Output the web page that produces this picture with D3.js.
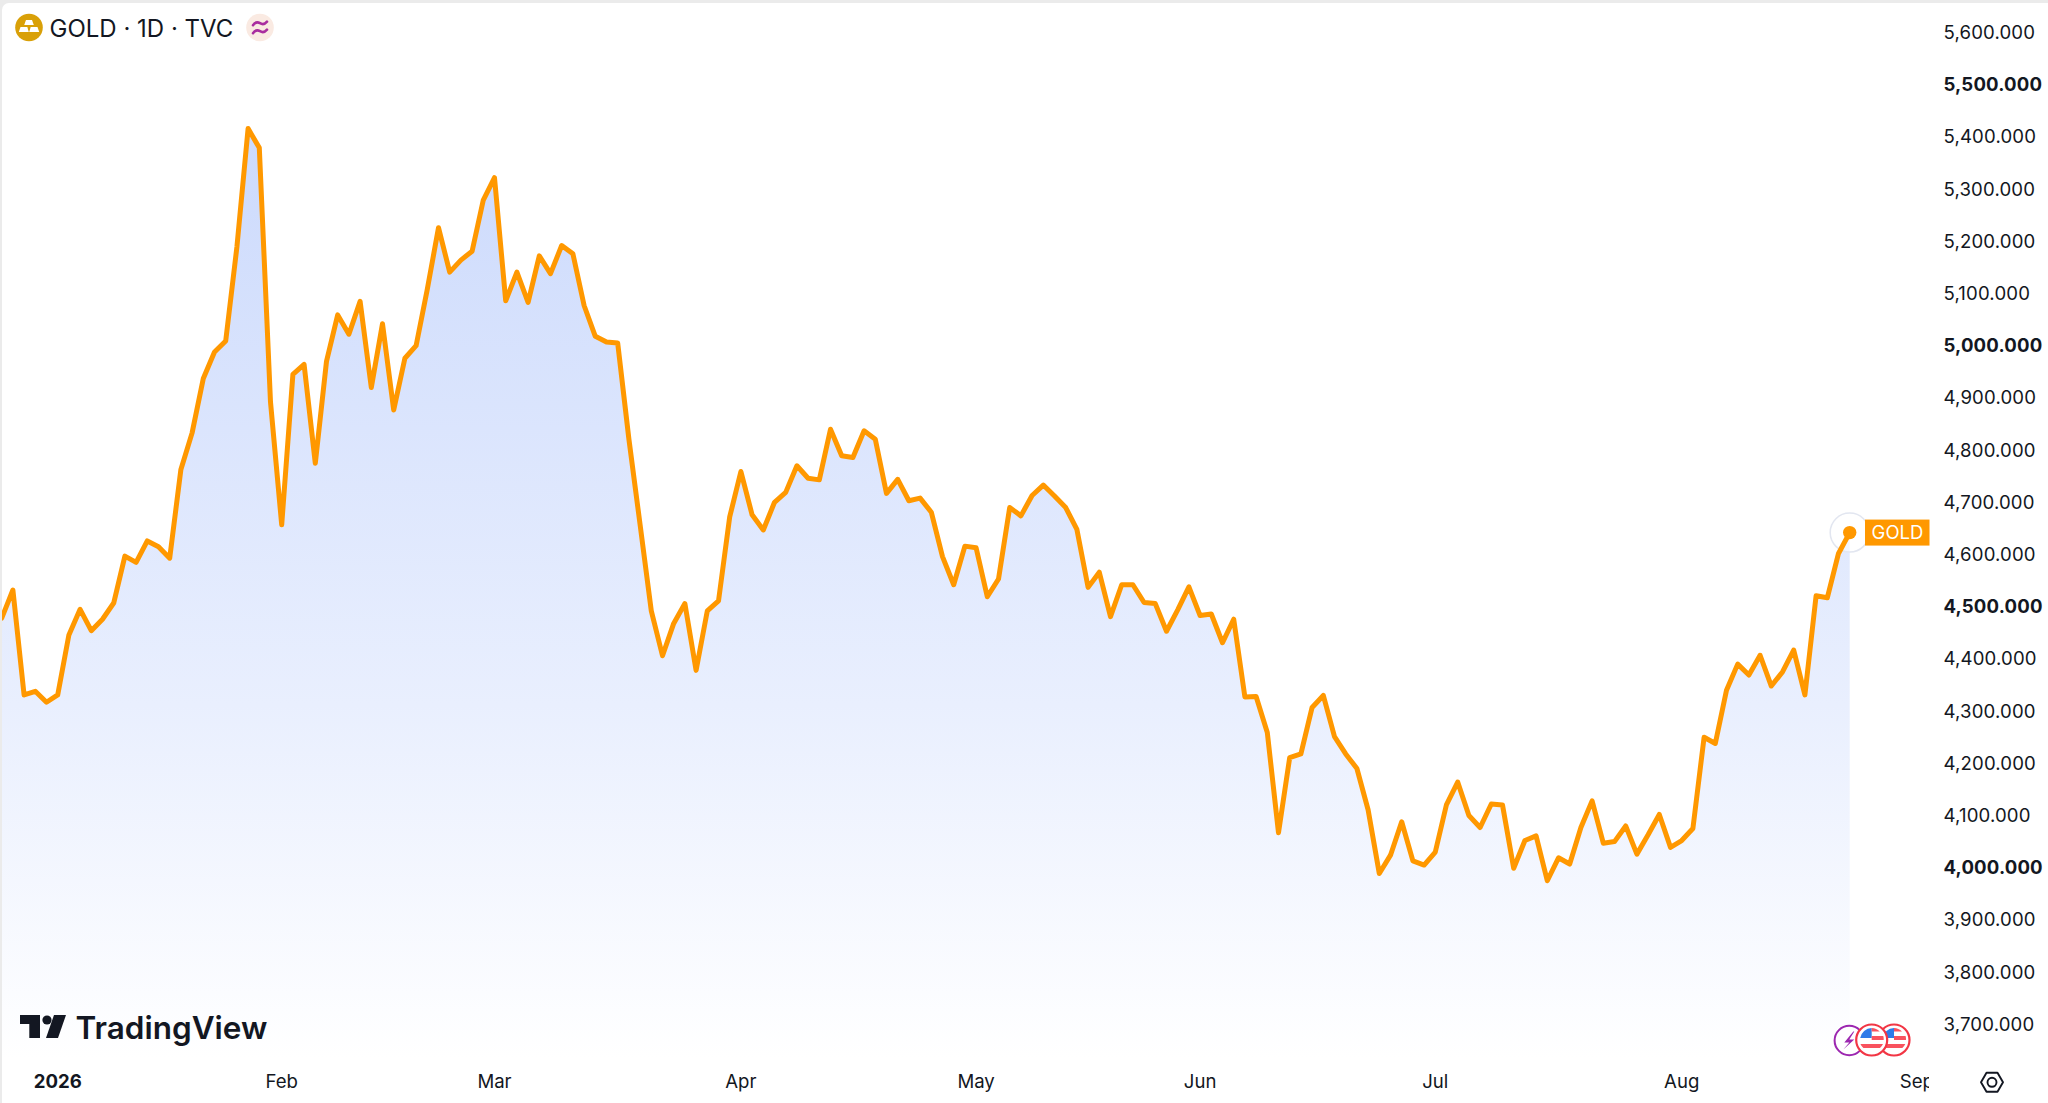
<!DOCTYPE html>
<html>
<head>
<meta charset="utf-8">
<title>GOLD 1D TVC</title>
<script src="https://cdnjs.cloudflare.com/ajax/libs/d3/7.8.5/d3.min.js"></script>
<style>
  html, body { margin: 0; padding: 0; background: #ebebeb; }
  svg { display: block; }
  text { font-family: Inter, "Liberation Sans", sans-serif; fill: #131722; }
</style>
</head>
<body>
<svg id="chart" width="2048" height="1103"></svg>
<script>
// daily closes, one per session
var prices = [
  4478, 4532, 4331, 4338, 4317, 4331, 4446, 4495, 4454, 4476,
  4507, 4597, 4585, 4626, 4615, 4593, 4763, 4833, 4937, 4988,
  5009, 5189, 5416, 5379, 4892, 4657, 4945, 4964, 4775, 4970,
  5059, 5022, 5085, 4920, 5042, 4877, 4976, 5000, 5108, 5226,
  5141, 5164, 5181, 5279, 5322, 5086, 5141, 5083, 5172, 5138,
  5192, 5176, 5077, 5018, 5007, 5005, 4821, 4657, 4492, 4406,
  4468, 4506, 4378, 4492, 4511, 4672, 4759, 4676, 4647, 4700,
  4719, 4770, 4746, 4743, 4840, 4789, 4786, 4837, 4821, 4717,
  4744, 4703, 4708, 4681, 4596, 4542, 4616, 4613, 4519, 4553,
  4690, 4674, 4713, 4733, 4712, 4690, 4648, 4537, 4566, 4481,
  4542, 4542, 4508, 4506, 4453, 4494, 4538, 4483, 4486, 4431,
  4476, 4327, 4328, 4259, 4067, 4211, 4218, 4307, 4330, 4251,
  4218, 4190, 4111, 3989, 4024, 4088, 4013, 4005, 4030, 4121,
  4164, 4100, 4077, 4122, 4120, 3999, 4052, 4061, 3975, 4019,
  4007, 4077, 4128, 4047, 4050, 4080, 4026, 4063, 4102, 4039,
  4052, 4075, 4250, 4238, 4340, 4390, 4369, 4407, 4348, 4375,
  4417, 4331, 4521, 4517, 4602, 4642
];
var priceTicks = [
  3700, 3800, 3900, 4000, 4100, 4200, 4300, 4400, 4500, 4600,
  4700, 4800, 4900, 5000, 5100, 5200, 5300, 5400, 5500, 5600
];
var monthLabels = ["2026", "Feb", "Mar", "Apr", "May", "Jun", "Jul", "Aug", "Sep"];
var monthSessions = [5, 25, 44, 66, 87, 107, 128, 150, 171];
var boldMonths = ["2026"];
var seriesName = "GOLD";
var titleText = "GOLD \u00b7 1D \u00b7 TVC";

var svg = d3.select("#chart");
var paneRight = 1929;
var paneBottom = 1058;

var x = d3.scaleLinear().domain([0, 165]).range([1.7, 1849.7]);
var y = d3.scaleLinear().domain([4000, 5000]).range([867.7, 345.7]);

var defs = svg.append("defs");

var fill = defs.append("linearGradient")
  .attr("id", "areaFill")
  .attr("gradientUnits", "userSpaceOnUse")
  .attr("x1", 0).attr("x2", 0)
  .attr("y1", y(d3.max(prices))).attr("y2", paneBottom);
fill.append("stop").attr("offset", 0).attr("stop-color", "#ccdafc");
fill.append("stop").attr("offset", 0.62).attr("stop-color", "#e9effe");
fill.append("stop").attr("offset", 1).attr("stop-color", "#ffffff");

defs.append("clipPath").attr("id", "paneClip")
  .append("rect").attr("x", 2).attr("y", 3).attr("width", paneRight - 2).attr("height", paneBottom - 3);
defs.append("clipPath").attr("id", "timeClip")
  .append("rect").attr("x", 0).attr("y", paneBottom).attr("width", paneRight).attr("height", 1103 - paneBottom);

// card
svg.append("rect")
  .attr("x", 2).attr("y", 3)
  .attr("width", 2060).attr("height", 1120)
  .attr("rx", 7)
  .attr("fill", "#ffffff");

var pane = svg.append("g").attr("clip-path", "url(#paneClip)");

var area = d3.area()
  .x(function(d, i) { return x(i); })
  .y0(paneBottom)
  .y1(function(d) { return y(d); });
var line = d3.line()
  .x(function(d, i) { return x(i); })
  .y(function(d) { return y(d); });

pane.append("path")
  .datum(prices)
  .attr("d", area)
  .attr("fill", "url(#areaFill)");

var lastI = prices.length - 1;
pane.append("circle")
  .attr("cx", x(lastI)).attr("cy", y(prices[lastI]))
  .attr("r", 19.5)
  .attr("fill", "rgba(255,255,255,0.55)")
  .attr("stroke", "#e2e6f0")
  .attr("stroke-width", 1.5);

pane.append("path")
  .datum(prices)
  .attr("d", line)
  .attr("fill", "none")
  .attr("stroke", "#ff9800")
  .attr("stroke-width", 5)
  .attr("stroke-linejoin", "round")
  .attr("stroke-linecap", "round");

pane.append("circle")
  .attr("cx", x(lastI)).attr("cy", y(prices[lastI]))
  .attr("r", 6.7)
  .attr("fill", "#ff9800");

// price scale
var yAxis = d3.axisRight(y)
  .tickValues(priceTicks)
  .tickSize(0)
  .tickPadding(0)
  .tickFormat(d3.format(",.3f"));
var yG = svg.append("g")
  .attr("transform", "translate(1943.5,0)")
  .call(yAxis);
yG.select(".domain").remove();
yG.selectAll("text")
  .attr("font-size", 18.6)
  .attr("font-weight", function(d) { return d % 500 === 0 ? 700 : 400; })
  .style("font-family", "Inter, sans-serif")
  .style("letter-spacing", "0.15px");

// time scale
var xAxis = d3.axisBottom(x)
  .tickValues(monthSessions)
  .tickSize(0)
  .tickPadding(0)
  .tickFormat(function(d, i) { return monthLabels[i]; });
var xG = svg.append("g")
  .attr("clip-path", "url(#timeClip)")
  .append("g")
  .attr("transform", "translate(-0.5,1075)")
  .call(xAxis);
xG.select(".domain").remove();
xG.selectAll("text")
  .attr("font-size", 18.6)
  .attr("font-weight", function(d, i) { return boldMonths.indexOf(monthLabels[i]) >= 0 ? 700 : 400; })
  .style("font-family", "Inter, sans-serif");

// last price tag
var tag = svg.append("g");
tag.append("rect")
  .attr("x", 1865).attr("y", y(prices[lastI]) - 13)
  .attr("width", 64.5).attr("height", 26)
  .attr("fill", "#ff9800");
tag.append("text")
  .attr("x", 1897.5).attr("y", y(prices[lastI]))
  .attr("dy", "0.36em")
  .attr("text-anchor", "middle")
  .attr("font-size", 18.5)
  .style("fill", "#ffffff")
  .text(seriesName);

// legend
var legend = svg.append("g");
legend.append("circle").attr("cx", 29).attr("cy", 27.5).attr("r", 13.8).attr("fill", "#d9a008");
legend.selectAll("path.bar")
  .data(["M26 20h6l1.800 5h-9.600z", "M20.500 27h6.800l1.500 5h-10z", "M30.700 27h6.800l1.700 5h-10z"])
  .enter().append("path")
  .attr("class", "bar")
  .attr("d", function(d) { return d; })
  .attr("fill", "#ffffff");
legend.append("text")
  .attr("x", 49.5).attr("y", 37)
  .attr("font-size", 24)
  .text(titleText);
legend.append("circle").attr("cx", 260).attr("cy", 27.5).attr("r", 13.8).attr("fill", "#faeae2");
legend.selectAll("path.wave")
  .data(["M253 25.2c2.5-3.5 4.5-3.5 7-2s4.500 1.500 7-1.500", "M253 33.200c2.500-3.500 4.500-3.500 7-2s4.500 1.500 7-1.500"])
  .enter().append("path")
  .attr("class", "wave")
  .attr("d", function(d) { return d; })
  .attr("fill", "none")
  .attr("stroke", "#a92d9f")
  .attr("stroke-width", 2.6)
  .attr("stroke-linecap", "round");

// TradingView mark
var logo = svg.append("g").attr("fill", "#131722");
logo.append("path").attr("d", "M20 1015h20v23h-10.700v-14h-9.300z");
logo.append("circle").attr("cx", 47).attr("cy", 1020).attr("r", 4.6);
logo.append("path").attr("d", "M54 1015h12l-8 23h-12z");
logo.append("text")
  .attr("x", 75.5).attr("y", 1038.500)
  .attr("font-size", 31.5)
  .attr("font-weight", 600)
  .text("TradingView");

// event marks on the time scale
var flagCenters = [1894, 1871.700];
var flags = svg.selectAll("g.flag").data(flagCenters).enter().append("g")
  .attr("class", "flag")
  .attr("transform", function(d) { return "translate(" + d + ",1040)"; });

var bolt = svg.insert("g", "g.flag").attr("transform", "translate(1849.300,1040.500)");
bolt.append("circle").attr("r", 14.700).attr("fill", "#ffffff").attr("stroke", "#9c27b0").attr("stroke-width", 2);
bolt.append("path").attr("d", "M4-9l-9 11h5l-6 7 11-10h-5l5-8z").attr("fill", "#9c27b0");

flags.append("circle").attr("r", 15.500).attr("fill", "#ffffff").attr("stroke", "#f23645").attr("stroke-width", 2.200);
flags.append("path").attr("d", "M-11.500-2a12 12 0 0 1 11.500-10v10z").attr("fill", "#2f7be8");
flags.append("path").attr("d", "M0-12a12 12 0 0 1 8 3.500h-8z M0-4h11.600a12 12 0 0 1 .4 4h-12z M-11.300 4h22.600a12 12 0 0 1-3 4h-16.600a12 12 0 0 1-3-4z").attr("fill", "#f9525e");

// settings button
var gear = svg.append("g")
  .attr("transform", "translate(1992,1082.300)")
  .attr("fill", "none")
  .attr("stroke", "#131722")
  .attr("stroke-width", 1.900);
gear.append("path").attr("d", "M-11 0l5.500-9.500h11l5.500 9.500-5.500 9.500h-11z").attr("stroke-linejoin", "round");
gear.append("circle").attr("r", 4.500);
</script>
</body>
</html>
